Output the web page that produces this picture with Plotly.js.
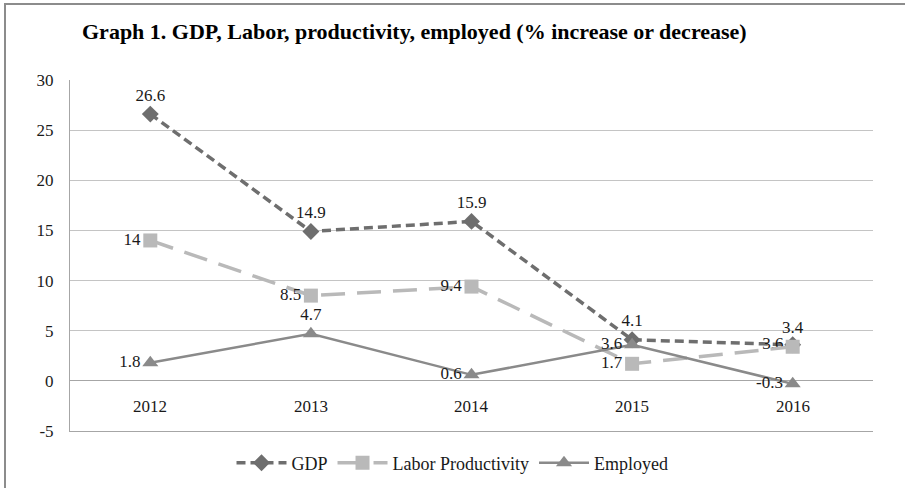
<!DOCTYPE html>
<html>
<head>
<meta charset="utf-8">
<script src="https://cdn.plot.ly/plotly-3.0.1.min.js"></script>
<style>
  html, body { margin: 0; padding: 0; background: #fff; }
  #wrap { position: relative; width: 905px; height: 488px; overflow: hidden; }
  #chart { position: absolute; left: 0; top: 0; width: 905px; height: 488px; }
  #frame { position: absolute; left: 4px; top: 3px; width: 905px; height: 488px;
           border-left: 2px solid #8c8c8c; border-top: 2px solid #8c8c8c; pointer-events: none; }
</style>
</head>
<body>
<div id="wrap">
  <div id="chart"></div>
  <div id="frame"></div>
</div>
<script>
const years = ['2012', '2013', '2014', '2015', '2016'];
const gdp = [26.6, 14.9, 15.9, 4.1, 3.6];
const laborProductivity = [14, 8.5, 9.4, 1.7, 3.4];
const employed = [1.8, 4.7, 0.6, 3.6, -0.3];
const yTickVals = [-5, 0, 5, 10, 15, 20, 25, 30];
const yTickText = ['-5', '0', '5', '10', '15', '20', '25', '30'];

const gdpLabelPos = ['top center', 'top center', 'top center', 'top center', 'middle left'];
const lpLabelPos = ['middle left', 'middle left', 'middle left', 'middle left', 'top center'];
const empLabelPos = ['middle left', 'top center', 'middle left', 'middle left', 'middle left'];

const font = 'Liberation Serif, Times New Roman, serif';
const txtColor = '#1a1a1a';
const labelFont = { family: font, size: 17, color: txtColor };

function fmt(arr) { return arr.map(v => String(v)); }

const traces = [
  {
    x: years, y: gdp, name: 'GDP', type: 'scatter', mode: 'lines+markers+text',
    line: { color: '#6e6e6e', width: 3.5, dash: '9px,5px' },
    marker: { symbol: 'diamond', size: 13, color: '#6e6e6e' },
    text: fmt(gdp), textposition: gdpLabelPos, textfont: labelFont, cliponaxis: false
  },
  {
    x: years, y: laborProductivity, name: 'Labor Productivity', type: 'scatter', mode: 'lines+markers+text',
    line: { color: '#b9b9b9', width: 3.5, dash: '24px,12px' },
    marker: { symbol: 'square', size: 14, color: '#b9b9b9' },
    text: fmt(laborProductivity), textposition: lpLabelPos, textfont: labelFont, cliponaxis: false
  },
  {
    x: years, y: employed, name: 'Employed', type: 'scatter', mode: 'lines+markers+text',
    line: { color: '#8a8a8a', width: 2.5 },
    marker: { symbol: 'triangle-up', size: 14, color: '#8a8a8a' },
    text: fmt(employed), textposition: empLabelPos, textfont: labelFont, cliponaxis: false
  }
];

const annotations = years.map((y, i) => ({
  x: i, y: 0, xref: 'x', yref: 'y', text: y, showarrow: false,
  yanchor: 'top', yshift: -14, font: { family: font, size: 17, color: txtColor }
}));

const layout = {
  width: 905, height: 488,
  margin: { l: 70, r: 32, t: 80, b: 57 },
  paper_bgcolor: '#ffffff', plot_bgcolor: '#ffffff',
  title: {
    text: '<b>Graph 1. GDP, Labor, productivity, employed (% increase or decrease)</b>',
    x: 82 / 905, xanchor: 'left', xref: 'container',
    y: 1 - 31 / 488, yanchor: 'middle', yref: 'container',
    font: { family: font, size: 22, color: '#000000' }
  },
  xaxis: {
    type: 'category', range: [-0.5, 4.5],
    showticklabels: false, ticks: '', showgrid: false,
    showline: true, linecolor: '#a6a6a6', linewidth: 1, zeroline: false, fixedrange: true
  },
  yaxis: {
    range: [-5, 30], tickmode: 'array', tickvals: yTickVals, ticktext: yTickText,
    showgrid: true, gridcolor: '#c4c4c4', gridwidth: 1,
    zeroline: true, zerolinecolor: '#a6a6a6', zerolinewidth: 1,
    showline: true, linecolor: '#a6a6a6', linewidth: 1,
    ticks: '', ticklabelstandoff: 12,
    tickfont: { family: font, size: 17, color: txtColor }, fixedrange: true
  },
  legend: {
    orientation: 'h', x: 0.5, xanchor: 'center', xref: 'container',
    y: 1 - 463 / 488, yanchor: 'middle', yref: 'container',
    font: { family: font, size: 18, color: txtColor },
    itemwidth: 50
  },
  showlegend: true,
  annotations: annotations
};

Plotly.newPlot('chart', traces, layout, { displayModeBar: false, staticPlot: true });
</script>
</body>
</html>
